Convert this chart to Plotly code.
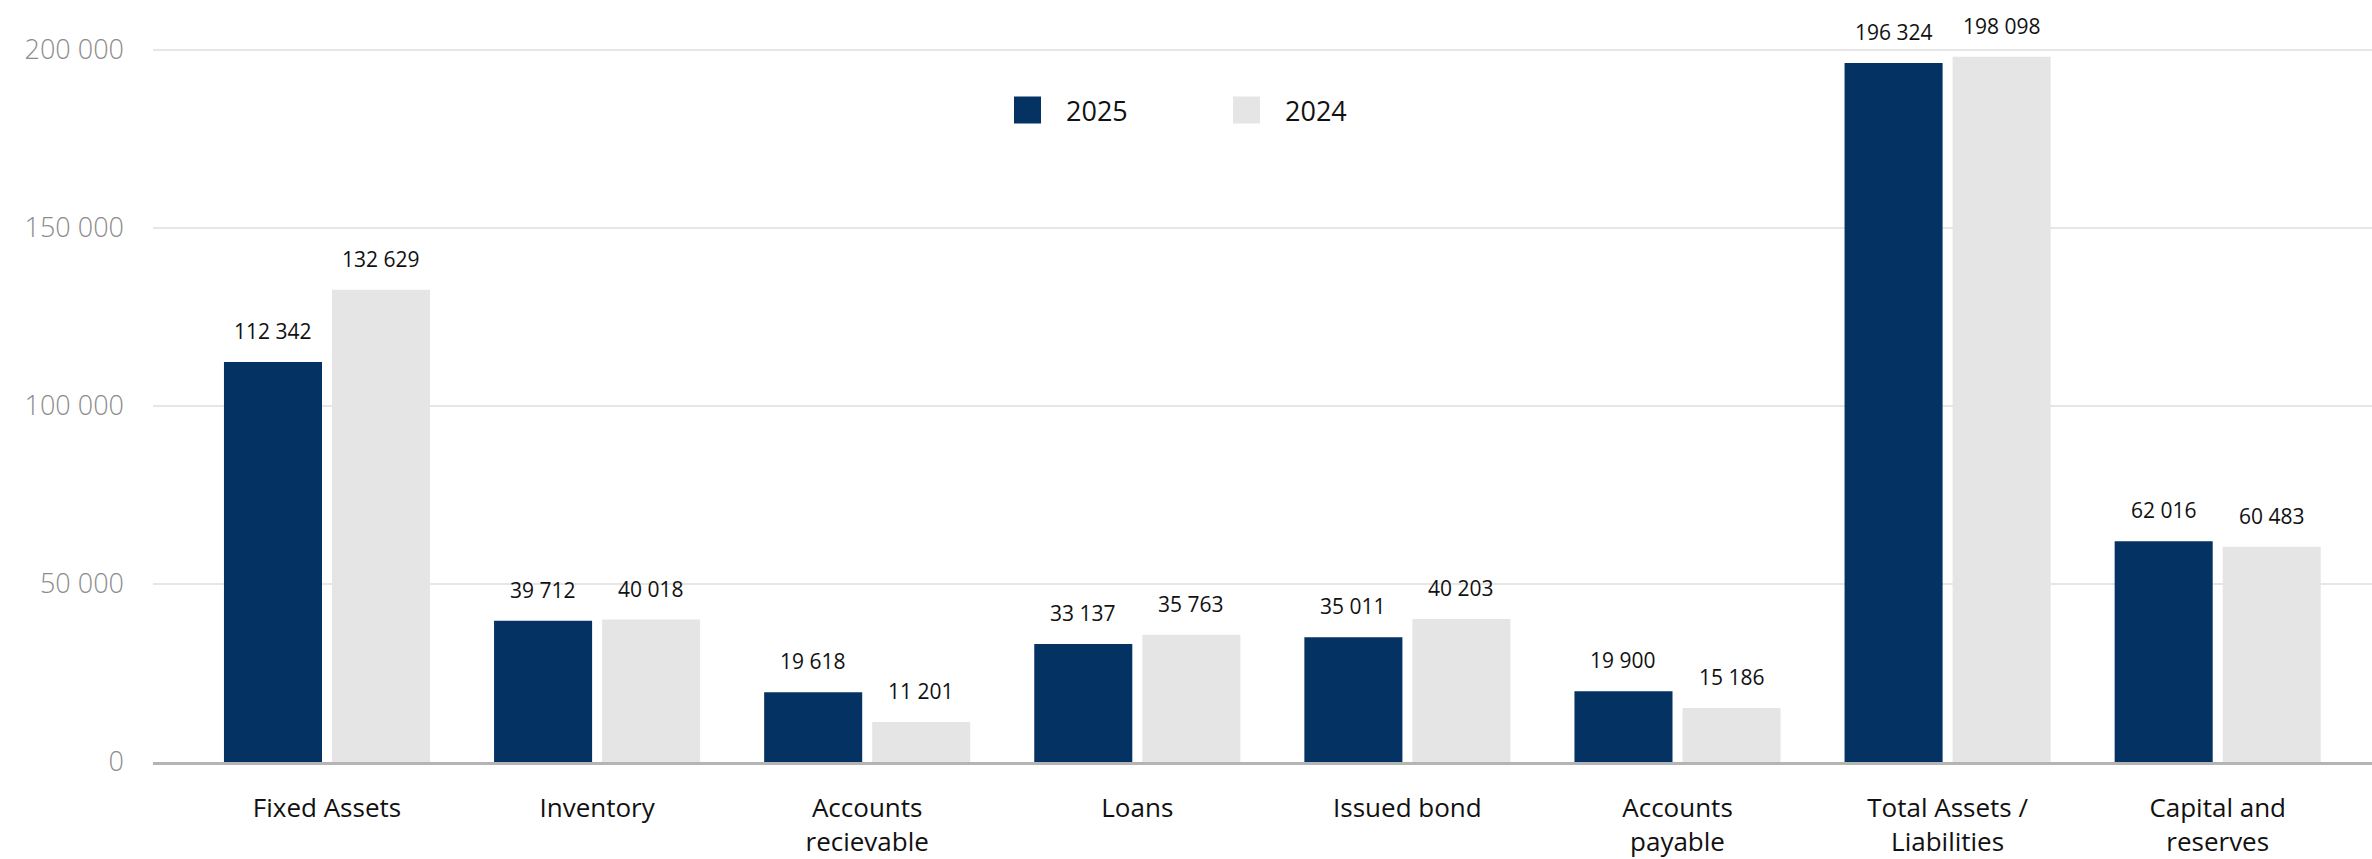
import plotly.graph_objects as go

categories = ["Fixed Assets", "Inventory", "Accounts<br>recievable", "Loans",
              "Issued bond", "Accounts<br>payable", "Total Assets /<br>Liabilities",
              "Capital and<br>reserves"]
series_names = ["2025", "2024"]
values_2025 = [112342, 39712, 19618, 33137, 35011, 19900, 196324, 62016]
values_2024 = [132629, 40018, 11201, 35763, 40203, 15186, 198098, 60483]
series_values = [values_2025, values_2024]
colors = ["#033263", "#e5e5e5"]
y_ticks = [0, 50000, 100000, 150000, 200000]

W, H = 2372, 859
ML, MR, MT, MB = 153, 0, 0, 97
BARGAP, GROUPGAP = 0.2, 0.0926

def fmt(v):
    return f"{v:,}".replace(",", " ")

fig = go.Figure()
for name, vals, col in zip(series_names, series_values, colors):
    fig.add_trace(go.Bar(x=categories, y=vals, name=name, marker_color=col,
                         marker_line_width=0, showlegend=False, hoverinfo="skip"))

# value labels above bars
offset = (1 - BARGAP) / 4
annotations = []
for k, vals in enumerate(series_values):
    sgn = -1 if k == 0 else 1
    for i, v in enumerate(vals):
        annotations.append(dict(x=i + sgn * offset, y=v, xref="x", yref="y",
                                text=fmt(v), showarrow=False, yanchor="middle",
                                yshift=31,
                                font=dict(family="Open Sans", size=21, color="#111111")))

# custom legend (large squares)
plot_w = W - ML - MR
plot_h = H - MT - MB
def px_x(p):
    return (p - ML) / plot_w
def px_y(p):
    return (H - MB - p) / plot_h

legend_px = [(1014, 1064), (1233, 1283)]
shapes = []
for (sq_x, tx_x), name, col in zip(legend_px, series_names, colors):
    shapes.append(dict(type="rect", xref="paper", yref="paper",
                       xsizemode="pixel", ysizemode="pixel",
                       xanchor=px_x(sq_x), yanchor=px_y(110),
                       x0=0, x1=27, y0=-13.5, y1=13.5,
                       fillcolor=col, line_width=0))
    annotations.append(dict(x=px_x(tx_x), y=px_y(110), xref="paper", yref="paper",
                            text=name, showarrow=False, xanchor="left", yanchor="middle",
                            font=dict(family="Open Sans", size=27, color="#111111")))

y_max = 200000 * (H - MB - MT) / 712.0
unit_px = 270.1
x_lo = (ML - 327) / unit_px
x_hi = (W - MR - 327) / unit_px

fig.update_layout(
    width=W, height=H,
    margin=dict(l=ML, r=MR, t=MT, b=MB, autoexpand=False),
    paper_bgcolor="white", plot_bgcolor="white",
    barmode="group", bargap=BARGAP, bargroupgap=GROUPGAP,
    separators=". ",
    shapes=shapes, annotations=annotations,
    showlegend=False,
    xaxis=dict(range=[x_lo, x_hi], showgrid=False, showline=True,
               linecolor="#b4b4b4", linewidth=3, ticks="",
               automargin=False, ticklabelstandoff=21,
               tickfont=dict(family="Open Sans", size=26, color="#111111")),
    yaxis=dict(range=[0, y_max], tickvals=y_ticks, tickformat=",d",
               showgrid=True, gridcolor="#e6e6e6", gridwidth=1.5,
               zeroline=False, showline=False, ticks="",
               automargin=False, ticklabelstandoff=28,
               tickfont=dict(family="Open Sans", size=27, color="#8c8c8c", weight=300)),
)

fig.write_html("out.html")
